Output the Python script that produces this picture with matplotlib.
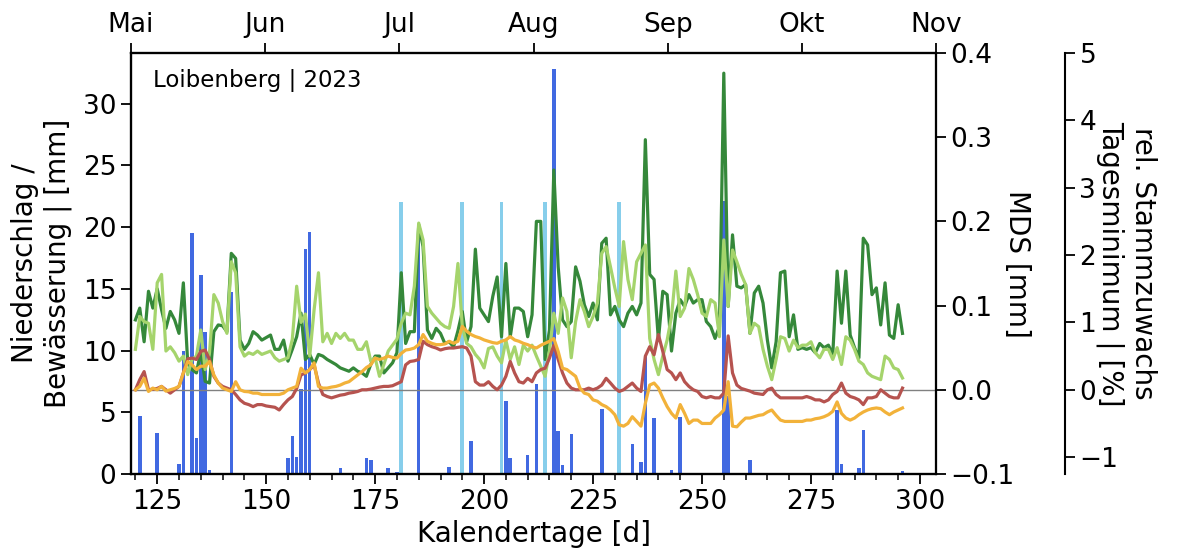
import numpy as np
import matplotlib.pyplot as plt

# Kalendertage 120..296
days = np.arange(120, 297)

# MDS [mm], dunkelgruen
mds_a = [0.083, 0.097, 0.057, 0.117, 0.097, 0.120, 0.095, 0.073, 0.093, 0.083,
         0.067, 0.127, 0.032, 0.024, 0.020, 0.046, 0.010, 0.008, 0.069, 0.077,
         0.076, 0.069, 0.162, 0.156, 0.059, 0.048, 0.055, 0.069, 0.065, 0.059,
         0.062, 0.065, 0.048, 0.048, 0.059, 0.034, 0.048, 0.063, 0.091, 0.036,
         0.042, 0.030, 0.042, 0.040, 0.036, 0.033, 0.030, 0.026, 0.024, 0.022,
         0.026, 0.022, 0.020, 0.016, 0.030, 0.040, 0.040, 0.020, 0.026, 0.032,
         0.044, 0.139, 0.055, 0.069, 0.069, 0.196, 0.170, 0.071, 0.061, 0.073,
         0.067, 0.055, 0.057, 0.051, 0.070, 0.093, 0.057, 0.075, 0.167, 0.097,
         0.089, 0.081, 0.111, 0.134, 0.063, 0.150, 0.063, 0.097, 0.097, 0.093,
         0.063, 0.089, 0.200, 0.200, 0.036, 0.071, 0.261, 0.146, 0.083, 0.075,
         0.081, 0.146, 0.129, 0.101, 0.087, 0.103, 0.083, 0.174, 0.180, 0.089,
         0.099, 0.083, 0.075, 0.091, 0.099, 0.089, 0.103, 0.297, 0.137, 0.131,
         0.059, 0.117, 0.113, 0.046, 0.091, 0.107, 0.099, 0.113, 0.103, 0.107,
         0.107, 0.081, 0.075, 0.061, 0.075, 0.376, 0.099, 0.184, 0.123, 0.121,
         0.125, 0.067, 0.115, 0.123, 0.103, 0.059, 0.026, 0.057, 0.139, 0.141,
         0.063, 0.089, 0.048, 0.050, 0.048, 0.050, 0.044, 0.055, 0.050, 0.053,
         0.042, 0.141, 0.079, 0.141, 0.065, 0.050, 0.038, 0.180, 0.172, 0.113,
         0.121, 0.077, 0.127, 0.065, 0.061, 0.101, 0.067]

# MDS [mm], hellgruen
mds_b = [0.048, 0.087, 0.081, 0.079, 0.048, 0.127, 0.137, 0.046, 0.051, 0.044,
         0.034, 0.040, 0.018, 0.036, 0.040, 0.071, 0.024, 0.044, 0.113, 0.103,
         0.081, 0.067, 0.152, 0.139, 0.051, 0.040, 0.044, 0.042, 0.046, 0.042,
         0.044, 0.046, 0.038, 0.034, 0.036, 0.038, 0.060, 0.123, 0.080, 0.090,
         0.040, 0.095, 0.139, 0.057, 0.067, 0.055, 0.067, 0.061, 0.067, 0.059,
         0.059, 0.048, 0.048, 0.057, 0.034, 0.038, 0.016, 0.030, 0.046, 0.053,
         0.060, 0.079, 0.091, 0.089, 0.123, 0.198, 0.178, 0.099, 0.091, 0.085,
         0.079, 0.075, 0.073, 0.099, 0.150, 0.075, 0.055, 0.051, 0.042, 0.036,
         0.026, 0.049, 0.051, 0.040, 0.032, 0.059, 0.036, 0.051, 0.030, 0.053,
         0.046, 0.053, 0.040, 0.028, 0.016, 0.046, 0.091, 0.067, 0.109, 0.093,
         0.038, 0.081, 0.107, 0.093, 0.075, 0.087, 0.103, 0.162, 0.170, 0.146,
         0.121, 0.099, 0.176, 0.131, 0.107, 0.152, 0.162, 0.172, 0.061, 0.036,
         0.018, 0.040, 0.059, 0.087, 0.141, 0.087, 0.097, 0.144, 0.131, 0.113,
         0.091, 0.087, 0.107, 0.103, 0.063, 0.178, 0.099, 0.166, 0.152, 0.137,
         0.125, 0.067, 0.079, 0.075, 0.048, 0.028, 0.012, 0.036, 0.063, 0.061,
         0.046, 0.059, 0.050, 0.053, 0.053, 0.057, 0.044, 0.038, 0.048, 0.048,
         0.036, 0.050, 0.030, 0.063, 0.059, 0.048, 0.034, 0.030, 0.020, 0.016,
         0.014, 0.012, 0.040, 0.036, 0.026, 0.024, 0.014]

# rel. Stammzuwachs Tagesminimum [%], rotbraun
growth_a = [0.00, 0.15, 0.27, 0.00, 0.01, 0.02, 0.05, 0.00, -0.05, 0.00,
            0.05, 0.25, 0.46, 0.47, 0.45, 0.57, 0.59, 0.45, 0.20, 0.10,
            0.05, 0.025, 0.00, -0.07, -0.15, -0.20, -0.22, -0.25, -0.22, -0.22,
            -0.24, -0.25, -0.26, -0.30, -0.22, -0.15, -0.10, 0.02, 0.22, 0.25,
            0.30, 0.37, 0.10, -0.07, -0.10, -0.12, -0.10, -0.08, -0.07, -0.05,
            -0.04, -0.025, 0.00, 0.00, 0.01, 0.025, 0.04, 0.05, 0.05, 0.06,
            0.09, 0.12, 0.37, 0.42, 0.43, 0.45, 0.72, 0.67, 0.64, 0.62,
            0.59, 0.61, 0.62, 0.62, 0.63, 0.64, 0.62, 0.50, 0.12, 0.07,
            0.07, 0.12, 0.05, 0.00, 0.07, 0.20, 0.42, 0.25, 0.12, 0.10,
            0.17, 0.12, 0.25, 0.30, 0.32, 0.47, 0.66, 0.45, 0.25, 0.10,
            0.025, 0.00, 0.00, 0.00, 0.025, 0.00, 0.025, 0.07, 0.17, 0.10,
            0.025, -0.025, 0.00, 0.05, 0.10, 0.025, -0.025, 0.50, 0.64, 0.52,
            0.82, 0.57, 0.30, 0.25, 0.15, 0.25, 0.12, 0.05, 0.00, -0.025,
            -0.10, -0.12, -0.10, -0.12, -0.12, -0.05, 0.80, 0.25, 0.07, 0.02,
            0.00, -0.02, -0.05, -0.06, -0.07, 0.00, 0.025, -0.07, -0.12, -0.12,
            -0.12, -0.12, -0.12, -0.12, -0.10, -0.12, -0.15, -0.15, -0.18, -0.15,
            -0.07, -0.025, 0.10, -0.05, -0.10, -0.12, -0.15, -0.22, -0.12, -0.12,
            -0.10, 0.00, -0.05, -0.10, -0.12, -0.12, 0.025]

# rel. Stammzuwachs Tagesminimum [%], orange
growth_b = [0.00, 0.05, 0.17, -0.025, 0.025, 0.00, 0.05, -0.02, 0.00, 0.02,
            0.05, 0.25, 0.42, 0.37, 0.30, 0.35, 0.35, 0.42, 0.22, 0.10,
            0.025, 0.00, -0.025, 0.12, 0.00, -0.025, -0.03, -0.05, -0.05, -0.07,
            -0.07, -0.07, -0.07, -0.07, -0.05, 0.00, 0.025, 0.05, 0.32, 0.25,
            0.30, 0.40, 0.05, 0.025, 0.025, 0.04, 0.05, 0.07, 0.10, 0.12,
            0.17, 0.22, 0.27, 0.33, 0.37, 0.47, 0.45, 0.47, 0.50, 0.48,
            0.47, 0.54, 0.59, 0.60, 0.62, 0.67, 0.82, 0.72, 0.69, 0.67,
            0.67, 0.68, 0.72, 0.69, 0.72, 0.94, 0.87, 0.82, 0.79, 0.77,
            0.74, 0.72, 0.70, 0.69, 0.72, 0.74, 0.79, 0.74, 0.72, 0.69,
            0.67, 0.64, 0.62, 0.66, 0.69, 0.72, 0.76, 0.57, 0.32, 0.30,
            0.25, 0.20, 0.025, -0.05, -0.07, -0.15, -0.17, -0.22, -0.25, -0.30,
            -0.37, -0.52, -0.54, -0.50, -0.40, -0.47, -0.54, -0.20, 0.07, 0.10,
            0.025, -0.12, -0.25, -0.35, -0.42, -0.22, -0.35, -0.50, -0.45, -0.45,
            -0.50, -0.50, -0.50, -0.42, -0.37, -0.30, 0.12, -0.54, -0.55, -0.48,
            -0.42, -0.42, -0.40, -0.38, -0.37, -0.33, -0.30, -0.38, -0.45, -0.47,
            -0.47, -0.47, -0.47, -0.47, -0.45, -0.45, -0.43, -0.42, -0.40, -0.37,
            -0.32, -0.18, -0.35, -0.42, -0.45, -0.42, -0.37, -0.33, -0.30, -0.28,
            -0.27, -0.28, -0.33, -0.37, -0.33, -0.30, -0.27]

# Niederschlag [mm]
rain_days = [121, 125, 130, 131, 133, 134, 135, 136, 137, 142, 155, 156, 157, 158,
             159, 160, 167, 173, 174, 178, 180, 185, 192, 197, 205, 206, 210, 212,
             215, 216, 217, 218, 220, 227, 234, 236, 237, 239, 240, 243, 245, 255,
             256, 261, 281, 282, 286, 287, 296]
rain_mm = [4.7, 3.3, 0.8, 10.0, 19.5, 2.9, 16.1, 11.5, 0.3, 14.7, 1.3, 3.1, 1.4, 6.9,
           18.2, 19.6, 0.5, 1.3, 1.1, 0.5, 0.2, 20.0, 0.6, 2.7, 5.9, 1.3, 1.5, 7.3,
           0.1, 32.8, 3.5, 0.7, 3.2, 5.3, 2.4, 1.0, 9.6, 4.5, 0.1, 0.3, 4.6, 22.1,
           6.3, 1.1, 5.2, 0.8, 0.5, 3.6, 0.25]

# Bewaesserung [mm]
irr_days = [181, 195, 204, 214, 231]
irr_mm = [22, 22, 22, 22, 22]

months = ['Mai', 'Jun', 'Jul', 'Aug', 'Sep', 'Okt', 'Nov']

fs = 20
plt.rcParams['font.size'] = fs

fig, ax = plt.subplots(figsize=(11.99, 5.53), dpi=100)
fig.subplots_adjust(left=0.1093, right=0.7807, bottom=0.1429, top=0.9042)

ax.bar(irr_days, irr_mm, width=0.9, color='skyblue')
ax.bar(rain_days, rain_mm, width=0.8, color='royalblue')
ax.set_xlim(119.0, 303.7)
ax.set_ylim(0, 34.1)
ax.set_xticks(np.arange(125, 301, 25))
ax.set_xticks(np.arange(120, 305, 5), minor=True)
ax.set_yticks(np.arange(0, 31, 5))
ax.set_xlabel('Kalendertage [d]', fontsize=fs)
ax.set_ylabel('Niederschlag /\nBewässerung | [mm]', fontsize=fs, labelpad=8)
ax.text(0.027, 0.935, 'Loibenberg | 2023', transform=ax.transAxes,
        fontsize=16.5, va='center')

ax2 = ax.twinx()
ax2.axhline(0, color='gray', lw=1)
ax2.plot(days, mds_a, color='#35883a', lw=2.3)
ax2.plot(days, mds_b, color='#a5d46c', lw=2.3)
ax2.set_ylim(-0.1, 0.4)
ax2.set_yticks([-0.1, 0.0, 0.1, 0.2, 0.3, 0.4])
ax2.set_ylabel('MDS [mm]', rotation=270, labelpad=12, fontsize=fs)

ax3 = ax.twinx()
ax3.spines['right'].set_position(('axes', 1.16))
ax3.plot(days, growth_a, color='#b6534f', lw=2.3)
ax3.plot(days, growth_b, color='#f2b23a', lw=2.3)
ax3.set_ylim(-1.25, 5)
ax3.set_yticks(np.arange(-1, 6, 1))
ax3.set_ylabel('rel. Stammzuwachs\nTagesminimum | [%]', rotation=270,
               labelpad=28, fontsize=fs)

ax4 = ax.twiny()
ax4.set_xlim(0, 6)
ax4.set_xticks(range(len(months)))
ax4.set_xticklabels(months)

for a in (ax, ax2, ax3, ax4):
    a.tick_params(labelsize=19, length=7, width=1.3)
    a.tick_params(which='minor', length=4, width=1.1)
    for s in a.spines.values():
        s.set_linewidth(1.5)

plt.savefig('out.png', dpi=100)
